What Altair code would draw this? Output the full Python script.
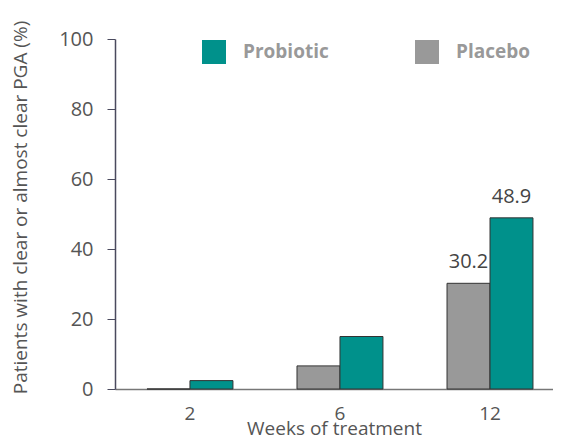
import altair as alt
import pandas as pd

weeks = ["2", "6", "12"]
groups = ["Probiotic", "Placebo"]
probiotic = [2.4, 15.0, 48.9]
placebo = [0.0, 6.6, 30.2]
colors = ["#00918b", "#999999"]
label_weeks = ["12"]

rows = []
for i, w in enumerate(weeks):
    rows.append({"week": w, "group": "Placebo", "value": placebo[i]})
    rows.append({"week": w, "group": "Probiotic", "value": probiotic[i]})
df = pd.DataFrame(rows)

FONT = "Open Sans"

base = alt.Chart(df).encode(
    x=alt.X(
        "week:N",
        sort=weeks,
        scale=alt.Scale(paddingInner=0.427, paddingOuter=0.1733, align=0.615),
        axis=alt.Axis(
            title="Weeks of treatment",
            labelAngle=0,
            ticks=False,
            domainColor="#777777",
            domainWidth=1.5,
            labelFont=FONT,
            labelFontSize=19,
            labelColor="#555555",
            labelPadding=15,
            titleFont=FONT,
            titleFontSize=19,
            titleFontWeight="normal",
            titleColor="#555555",
            titleBaseline="alphabetic",
            titleY=45,
        ),
    ),
    xOffset=alt.XOffset(
        "group:N",
        scale=alt.Scale(domain=["Placebo", "Probiotic"], paddingInner=0, paddingOuter=0),
    ),
    y=alt.Y(
        "value:Q",
        scale=alt.Scale(domain=[0, 100]),
        axis=alt.Axis(
            title="Patients with clear or almost clear PGA (%)",
            values=[0, 20, 40, 60, 80, 100],
            grid=False,
            tickSize=8,
            tickColor="#4a4a5e",
            domainColor="#4a4a5e",
            domainWidth=1.5,
            labelFont=FONT,
            labelFontSize=20,
            labelColor="#555555",
            labelPadding=14,
            titleFont=FONT,
            titleFontSize=19,
            titleFontWeight="normal",
            titleColor="#555555",
            titleX=-95,
            titleY=168,
            titleBaseline="middle",
        ),
    ),
)

bars = base.mark_bar(stroke="#333333", strokeWidth=1).encode(
    color=alt.Color(
        "group:N",
        scale=alt.Scale(domain=groups, range=colors),
        legend=alt.Legend(
            title=None,
            orient="none",
            legendX=87,
            legendY=1,
            direction="horizontal",
            symbolType="square",
            symbolSize=576,
            symbolStrokeWidth=0,
            labelFont=FONT,
            labelFontSize=19,
            labelFontWeight="bold",
            labelColor="#999999",
            labelOffset=17,
            columnPadding=86,
        ),
    )
)

labels = base.mark_text(
    dy=-15, baseline="alphabetic", fontSize=20, font=FONT, color="#444444"
).encode(
    text=alt.Text("value:Q", format=".1f")
).transform_filter(
    alt.FieldOneOfPredicate(field="week", oneOf=label_weeks)
)

chart = (
    alt.layer(bars, labels)
    .properties(
        width=438,
        height=350,
        autosize=alt.AutoSizeParams(type="none"),
        padding={"left": 107, "top": 31, "right": 0, "bottom": 50},
    )
    .configure_view(stroke=None)
)

chart.save("out.html", embed_options={"renderer": "svg", "actions": False})
